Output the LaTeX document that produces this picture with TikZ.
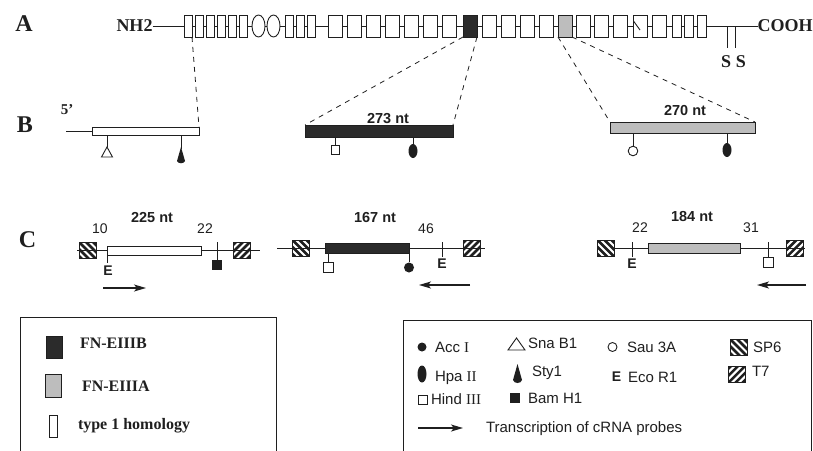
\documentclass[tikz,border=0pt]{standalone}
\usepackage{fontspec}
\setmainfont{Liberation Serif}
\setsansfont{Liberation Sans}
\usetikzlibrary{arrows.meta}
\newcommand\fsz[1]{\fontsize{#1}{#1}\selectfont}
\definecolor{ink}{gray}{0.12}
\definecolor{darkbar}{gray}{0.17}
\definecolor{graybar}{gray}{0.74}
\begin{document}
\begin{tikzpicture}[x=1pt,y=-1pt,
  every node/.style={inner sep=0pt,outer sep=0pt},
  ln/.style={draw=ink,line width=0.9pt},
  modI/.style={draw=ink,fill=white,line width=0.8pt,minimum width=8pt,minimum height=22pt,anchor=west},
  modIII/.style={draw=ink,fill=white,line width=0.8pt,minimum width=14pt,minimum height=22pt,anchor=west},
  bar/.style={draw=ink,line width=0.8pt,anchor=west},
  conn/.style={draw=ink,line width=0.8pt,dash pattern=on 5pt off 5pt},
  panel/.style={font=\fsz{24}\rmfamily\bfseries,text=ink},
  term/.style={font=\fsz{18}\rmfamily\bfseries,text=ink},
  nt/.style={font=\fsz{14.5}\sffamily\bfseries,text=ink},
  num/.style={font=\fsz{14}\sffamily,text=ink},
  Elab/.style={font=\fsz{14}\sffamily\bfseries,text=ink},
  legl/.style={font=\fsz{16}\rmfamily\bfseries,text=ink},
  legr/.style={font=\fsz{15}\sffamily,text=ink},
  probe/.style={draw=ink,line width=1.4pt,-{Stealth[length=12pt,width=7pt,inset=3pt]}},
  sp6/.pic={
    \begin{scope}
      \clip (-8.5,-8) rectangle (8.5,8);
      \foreach \k in {-28,-21,...,28} \draw[ink,line width=2.5pt] (\k-12,-12) -- (\k+12,12);
    \end{scope}
    \draw[ink,line width=0.8pt] (-8.5,-8) rectangle (8.5,8);
  },
  t7/.pic={
    \begin{scope}
      \clip (-8.5,-8) rectangle (8.5,8);
      \foreach \k in {-28,-21,...,28} \draw[ink,line width=2.5pt] (\k-12,12) -- (\k+12,-12);
    \end{scope}
    \draw[ink,line width=0.8pt] (-8.5,-8) rectangle (8.5,8);
  }
]
\useasboundingbox (0,0) rectangle (813,450);

% ---------------- Row A ----------------
\node[panel] (lA) at (24,24) {A};
\node[term,anchor=east] (nh2) at (152.5,26) {NH2};
\node[term,anchor=west] (cooh) at (757.5,26) {COOH};
\draw[ln] (nh2.east) -- (cooh.west);
\foreach \x [count=\i] in {184,195,206,217,228,239} \node[modI] (aI\i) at (\x,26) {};
\draw[ln,fill=white] (258.5,26) ellipse (6.5 and 11);
\draw[ln,fill=white] (273.5,26) ellipse (6.5 and 11);
\foreach \x [count=\i] in {285,296,307} \node[modI] (aJ\i) at (\x,26) {};
\foreach \x [count=\i] in {328,347,366,385,404,423,442,482,501,520,539,576,594,613,633,652}
  \node[modIII] (aT\i) at (\x,26) {};
\node[modIII,fill=darkbar] (aB) at (463,26) {};
\node[modIII,fill=graybar] (aA) at (558,26) {};
\draw[ln] (633.5,21) -- (640,30);
\foreach \x [count=\i] in {672,684.5,697} \node[modI,minimum width=9pt] (aK\i) at (\x,26) {};
\coordinate (s1a) at (727,26); \coordinate (s1b) at (727,48);
\coordinate (s2a) at (735,26); \coordinate (s2b) at (735,48);
\draw[ln] (s1a) -- (s1b);
\draw[ln] (s2a) -- (s2b);
\node[term] (ss) at (733.5,62) {S\hspace{5pt}S};

% ---------------- Row B ----------------
\node[panel] (lB) at (25,124.5) {B};
\node[font=\fsz{15}\rmfamily\bfseries,text=ink] (p5) at (67,110) {5'};
\node[bar,fill=white,minimum width=107pt,minimum height=8pt] (bL) at (92,131) {};
\coordinate (bL0) at (66,131);
\draw[ln] (bL0) -- (bL.west);
\draw[ln] (107,135) -- (107,147);
\draw[ln,fill=white] (107,147) -- (112.5,157) -- (101.5,157) -- cycle;
\draw[ln] (181,135) -- (181,149);
\fill[ink] (181,147) -- (185,161) .. controls (184,164) and (178,164) .. (177,161) -- cycle;

\node[bar,fill=darkbar,minimum width=148pt,minimum height=12pt] (bB) at (305,131) {};
\node[nt] (n273) at (388,119) {273 nt};
\draw[ln] (335,137) -- (335,145);
\draw[ln,fill=white] (331,145) rectangle (339,154);
\draw[ln] (413,137) -- (413,144);
\fill[ink] (413,151) ellipse (4.5 and 7);

\node[bar,fill=graybar,minimum width=145pt,minimum height=11pt] (bA) at (610,127.5) {};
\node[nt] (n270) at (685,111) {270 nt};
\draw[ln] (633,133) -- (633,146);
\draw[ln,fill=white] (633,151) circle (4.8);
\draw[ln] (727,133) -- (727,143);
\fill[ink] (727,150) ellipse (4.5 and 7);

% dashed connectors A -> B
\draw[conn] (aI1.south east) -- (bL.north east);
\draw[conn] (aB.south west) -- (bB.north west);
\draw[conn] (aB.south east) -- (bB.north east);
\draw[conn] (aA.south west) -- (bA.north west);
\draw[conn] (aA.south east) -- (bA.north east);

% ---------------- Row C ----------------
\node[panel] (lC) at (27.5,240) {C};
% probe 1
\coordinate (c1l) at (77,250); \coordinate (c1r) at (260,250);
\draw[ln] (c1l) -- (c1r);
\pic at (87.5,250.5) {sp6};
\node[bar,fill=white,minimum width=94pt,minimum height=9pt] (c1box) at (107,250.5) {};
\draw[ln] (c1box.south west) -- (107,263);
\node[Elab] (c1E) at (108,271) {E};
\node[num] (c1n10) at (100,229) {10};
\node[nt] (c1nt) at (152,218) {225 nt};
\node[num] (c1n22) at (205,229) {22};
\draw[ln] (217,242) -- (217,260);
\fill[ink] (212,260) rectangle (222,270);
\pic at (241.5,250.5) {t7};
% probe 2
\coordinate (c2l) at (277,248); \coordinate (c2r) at (485,248);
\draw[ln] (c2l) -- (c2r);
\pic at (301,248.5) {sp6};
\node[bar,fill=darkbar,minimum width=84pt,minimum height=10pt] (c2box) at (325,248) {};
\draw[ln] (328,253) -- (328,262);
\draw[ln,fill=white] (323,262) rectangle (333,272);
\draw[ln] (c2box.south east) -- (409,262);
\fill[ink] (409,267.5) circle (5);
\node[nt] (c2nt) at (375,218) {167 nt};
\node[num] (c2n46) at (426,229) {46};
\draw[ln] (442,242) -- (442,257);
\node[Elab] (c2E) at (442,264) {E};
\pic at (471.5,248.5) {t7};
% probe 3
\coordinate (c3l) at (614,248); \coordinate (c3r) at (805,248);
\draw[ln] (c3l) -- (c3r);
\pic at (606,248.5) {sp6};
\draw[ln] (632,242) -- (632,257);
\node[Elab] (c3E) at (632,264) {E};
\node[num] (c3n22) at (640,228) {22};
\node[bar,fill=graybar,minimum width=92pt,minimum height=10pt] (c3box) at (648,248) {};
\node[nt] (c3nt) at (692,217) {184 nt};
\node[num] (c3n31) at (751,228) {31};
\draw[ln] (768,242) -- (768,257);
\draw[ln,fill=white] (763,257) rectangle (773,267);
\pic at (795,248.5) {t7};
% transcription arrows
\coordinate (ar1a) at (103,288); \coordinate (ar1b) at (146,288);
\draw[probe] (ar1a) -- (ar1b);
\coordinate (ar2a) at (470,285); \coordinate (ar2b) at (419,285);
\draw[probe] (ar2a) -- (ar2b);
\coordinate (ar3a) at (806,285); \coordinate (ar3b) at (757,285);
\draw[probe] (ar3a) -- (ar3b);

% ---------------- Legends ----------------
\draw[ln] (20,456) -- (20,317) -- (276,317) -- (276,456);
\node[draw=ink,fill=darkbar,line width=0.8pt,minimum width=16pt,minimum height=22pt] (kB) at (54,347) {};
\node[legl,anchor=west] (tB) at (80,343) {FN-EIIIB};
\node[draw=ink,fill=graybar,line width=0.8pt,minimum width=16pt,minimum height=23pt] (kA) at (53.5,385.5) {};
\node[legl,anchor=west] (tA) at (82,386) {FN-EIIIA};
\node[draw=ink,fill=white,line width=0.8pt,minimum width=8pt,minimum height=22pt] (kH) at (53.5,426) {};
\node[legl,anchor=base west] (tH) at (78,429.3) {type 1 homology};

\draw[ln] (403,456) -- (403,320) -- (811,320) -- (811,456);
\fill[ink] (422,347) circle (4.5);
\node[legr,anchor=west] (tAcc) at (435,347) {Acc {\rmfamily I}};
\fill[ink] (422,374) ellipse (4.5 and 8.5);
\node[legr,anchor=base west] (tHpa) at (435,381.4) {Hpa {\rmfamily II}};
\draw[ln,fill=white] (418,395) rectangle (427,404);
\node[legr,anchor=west] (tHind) at (431,399) {Hind {\rmfamily III}};
\draw[ln,fill=white] (508,350) -- (516.5,338) -- (525,350) -- cycle;
\node[legr,anchor=west] (tSna) at (528,343) {Sna B1};
\fill[ink] (517.5,364) -- (522,380) .. controls (521,384) and (514,384) .. (513,380) -- cycle;
\node[legr,anchor=base west] (tSty) at (532,376.4) {Sty1};
\fill[ink] (510,393) rectangle (520,403);
\node[legr,anchor=west] (tBam) at (528,398) {Bam H1};
\draw[ln,fill=white] (612.5,347) circle (4.5);
\node[legr,anchor=west] (tSau) at (627,347) {Sau 3A};
\node[Elab] (kE) at (616.5,377) {E};
\node[legr,anchor=west] (tEco) at (628,377) {Eco R1};
\pic at (738.5,347.5) {sp6};
\node[legr,anchor=west] (tSP6) at (753,347) {SP6};
\pic at (736.5,374.5) {t7};
\node[legr,anchor=west] (tT7) at (752,371) {T7};
\coordinate (kar1) at (418,428); \coordinate (kar2) at (463,428);
\draw[probe] (kar1) -- (kar2);
\node[legr,anchor=base west] (tTr) at (486,432.4) {Transcription of cRNA probes};
\end{tikzpicture}
\end{document}
